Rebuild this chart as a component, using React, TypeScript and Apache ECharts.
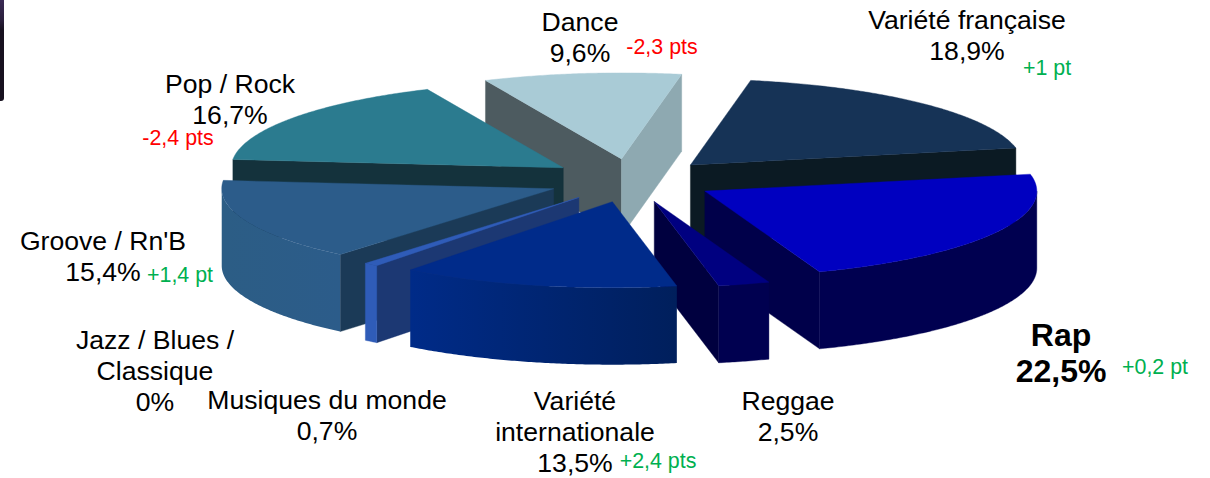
import React, { useEffect, useRef } from "react";
import * as echarts from "echarts";

const categories = [
  "Variété française",
  "Rap",
  "Reggae",
  "Variété\ninternationale",
  "Musiques du monde",
  "Jazz / Blues /\nClassique",
  "Groove / Rn'B",
  "Pop / Rock",
  "Dance",
];
const shares = [18.9, 22.5, 2.5, 13.5, 0.7, 0, 15.4, 16.7, 9.6];
const deltas = ["+1 pt", "+0,2 pt", "", "+2,4 pts", "", "", "+1,4 pt", "-2,4 pts", "-2,3 pts"];

// painter's order, back to front
const drawOrder = [8, 0, 7, 1, 6, 4, 5, 2, 3];

const topColors = ["#163356", "#0000c0", "#000080", "#002b8a", "#2f5cb8", "#2f5cb8", "#2c5c8a", "#2b7b8f", "#a9cbd6"];
const rimColors = [
  ["#0b1a23", "#0b1a23"],
  ["#000050", "#000050"],
  ["#000050", "#000050"],
  ["#002b88", "#001f5c"],
  ["#2f5cb8", "#2f5cb8"],
  ["#2f5cb8", "#2f5cb8"],
  ["#2c5d85", "#2c5c8a"],
  ["#14323c", "#14323c"],
  ["#8ea9b1", "#8ea9b1"],
];
const startFaceColors = ["#0b1a23", "#00003f", "#00003f", "#001f5c", "#1c3873", "#1c3873", "#1b3a57", "#14323c", "#4d5b60"];
const endFaceColors = ["#0b1a23", "#00004a", "#00003f", "#001f5c", "#1c3873", "#1c3873", "#1b3a57", "#14323c", "#8ea9b1"];

const CX = 631.5;
const CY = 180.5;
const RX = 332;
const RY = 86;
const DEPTH = 77;
const EXPLODE = 0.253;
const START_ANGLE = 10.45;

const total = shares.reduce((a, b) => a + b, 0);
const rad = (d: number) => (d * Math.PI) / 180;
const toAngle = (v: number) => START_ANGLE + echarts.number.linearMap(v, [0, total], [0, 360]);

function renderSlice(_params: any, api: any) {
  const i = api.value(0) as number;
  if (shares[i] <= 0) return { type: "group", children: [] };
  const cum = shares.slice(0, i).reduce((a, b) => a + b, 0);
  const a0 = toAngle(cum);
  const a1 = toAngle(cum + shares[i]);
  const mid = (a0 + a1) / 2;
  const ax = CX + EXPLODE * RX * Math.sin(rad(mid));
  const ay = CY - EXPLODE * RY * Math.cos(rad(mid));
  const pt = (d: number, dy = 0): number[] => [ax + RX * Math.sin(rad(d)), ay - RY * Math.cos(rad(d)) + dy];
  const arc = (from: number, to: number, dy = 0) => {
    const out: number[][] = [];
    const n = Math.max(2, Math.ceil((to - from) * 2));
    for (let k = 0; k <= n; k++) out.push(pt(from + ((to - from) * k) / n, dy));
    return out;
  };
  const children: any[] = [];
  const poly = (points: number[][], fill: any) =>
    children.push({
      type: "polygon",
      shape: { points },
      style: { fill, stroke: typeof fill === "string" ? fill : "none", lineWidth: 0.4 },
      silent: true,
    });
  const face = (d: number, fill: string) =>
    poly([[ax, ay], pt(d), pt(d, DEPTH), [ax, ay + DEPTH]], fill);

  if (Math.sin(rad(a0)) < 0) face(a0, startFaceColors[i]);
  if (Math.sin(rad(a1)) > 0) face(a1, endFaceColors[i]);
  const r0 = Math.max(a0, 90);
  const r1 = Math.min(a1, 270);
  if (r1 > r0) {
    const fill =
      rimColors[i][0] === rimColors[i][1]
        ? rimColors[i][0]
        : new echarts.graphic.LinearGradient(0, 0, 1, 0, [
            { offset: 0, color: rimColors[i][0] },
            { offset: 1, color: rimColors[i][1] },
          ]);
    poly([...arc(r0, r1), ...arc(r0, r1, DEPTH).reverse()], fill);
  }
  poly([[ax, ay], ...arc(a0, a1)], topColors[i]);
  return { type: "group", children };
}

const fmt = (v: number) => String(v).replace(".", ",") + "%";
const BLACK = "#000000";
const GREEN = "#00b050";
const RED = "#ff0000";
const FONT = '"Liberation Sans", Arial, sans-serif';

// label anchors: [centre x, centre y of first line]
const nameAnchors: number[][] = [
  [967, 20],
  [1061, 335],
  [788, 401],
  [575, 401],
  [327, 400],
  [155, 340],
  [103, 241],
  [230, 84],
  [580, 22],
];
const deltaAnchors: number[][] = [
  [1047, 68],
  [1155, 367],
  [0, 0],
  [658, 461],
  [0, 0],
  [0, 0],
  [180, 275],
  [178, 138],
  [662, 47],
];

function buildTexts() {
  const els: any[] = [];
  categories.forEach((name, i) => {
    const bold = i === 1;
    const size = bold ? 32 : 26.6;
    const lh = bold ? 36 : 31;
    els.push({
      type: "text",
      x: nameAnchors[i][0],
      y: nameAnchors[i][1] - lh / 2,
      silent: true,
      style: {
        text: `${name}\n${fmt(shares[i])}`,
        fill: BLACK,
        font: `${bold ? "bold " : ""}${size}px ${FONT}`,
        lineHeight: lh,
        align: "center",
        verticalAlign: "top",
      },
    });
    if (deltas[i]) {
      els.push({
        type: "text",
        x: deltaAnchors[i][0],
        y: deltaAnchors[i][1],
        silent: true,
        style: {
          text: deltas[i],
          fill: deltas[i][0] === "+" ? GREEN : RED,
          font: `21.4px ${FONT}`,
          align: "center",
          verticalAlign: "middle",
        },
      });
    }
  });
  return els;
}

export default function App() {
  const ref = useRef<HTMLDivElement>(null);
  useEffect(() => {
    const chart = echarts.init(ref.current!, undefined, { renderer: "svg" });
    chart.setOption({
      animation: false,
      backgroundColor: "#ffffff",
      series: [
        {
          type: "custom",
          coordinateSystem: "none",
          silent: true,
          clip: false,
          renderItem: renderSlice,
          data: drawOrder.map((i) => [i]),
        },
      ],
      graphic: [
        {
          type: "rect",
          silent: true,
          shape: { x: 0, y: 0, width: 4, height: 101, r: [0, 0, 3, 0] },
          style: {
            fill: new echarts.graphic.LinearGradient(0, 0, 0, 1, [
              { offset: 0, color: "#3a2a55" },
              { offset: 0.2, color: "#2a1f3c" },
              { offset: 0.3, color: "#17111f" },
              { offset: 1, color: "#17111f" },
            ]),
          },
        },
        ...buildTexts(),
      ],
    });
    return () => chart.dispose();
  }, []);
  return <div ref={ref} style={{ position: "fixed", left: 0, top: 0, width: 1210, height: 478 }} />;
}
